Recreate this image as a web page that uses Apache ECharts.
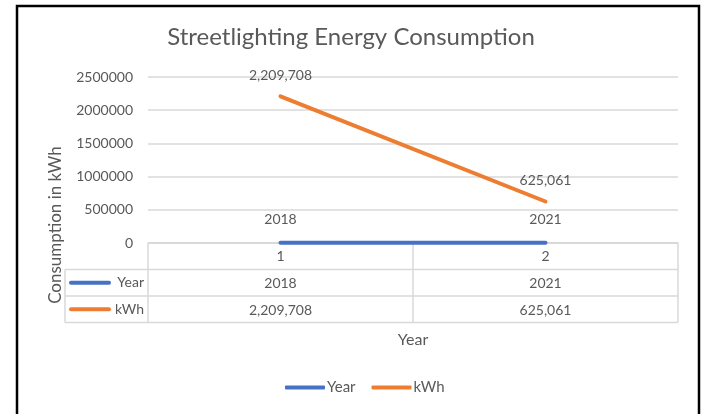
<!DOCTYPE html>
<html>
<head>
<meta charset="utf-8">
<script src="https://cdn.jsdelivr.net/npm/echarts@6/dist/echarts.min.js"></script>
<style>
  html, body { margin: 0; padding: 0; background: #fff; }
  #chart { width: 702px; height: 414px; }
</style>
</head>
<body>
<div id="chart"></div>
<script>
// data
const categories = ['1', '2']
const yearValues = [2018, 2021]
const kwhValues = [2209708, 625061]
const seriesNames = ['Year', 'kWh']
const yTicks = { min: 0, max: 2500000, interval: 500000 }

const FONT = 'Lato'
const TXT = '#595959'
const GRID_LINE = '#D9D9D9'
const BLUE = '#4472C4'
const ORANGE = '#ED7D31'

// layout (px)
const gridLeft = 148
const gridRight = 678
const gridTop = 77
const axisY = 243
const rowH = 26.5
const tableLeft = 65

const fmt = v => v.toLocaleString('en-US')

const chart = echarts.init(document.getElementById('chart'))

const tableRows = [
  { name: seriesNames[0], color: BLUE, y: axisY + rowH * 1.5 },
  { name: seriesNames[1], color: ORANGE, y: axisY + rowH * 2.5 }
]

const graphics = [
  // chart frame
  { type: 'rect', shape: { x: 17, y: 6, width: 682, height: 420 }, style: { fill: 'none', stroke: '#000', lineWidth: 2.5 }, silent: true },
  // y axis title
  {
    type: 'text', x: 56, y: 225, rotation: Math.PI / 2,
    style: { text: 'Consumption in kWh', font: '17px ' + FONT, fill: TXT, align: 'center', verticalAlign: 'middle' }
  }
]

// data table borders
const tableBottom = axisY + rowH * 3
const hLines = [
  [gridLeft, axisY, gridRight, axisY],
  [tableLeft, axisY + rowH, gridRight, axisY + rowH],
  [tableLeft, axisY + rowH * 2, gridRight, axisY + rowH * 2],
  [tableLeft, tableBottom, gridRight, tableBottom],
  [tableLeft, axisY + rowH, tableLeft, tableBottom],
  [gridLeft, axisY, gridLeft, tableBottom],
  [(gridLeft + gridRight) / 2, axisY, (gridLeft + gridRight) / 2, tableBottom],
  [gridRight, axisY, gridRight, tableBottom]
]
hLines.forEach(l => {
  graphics.push({
    type: 'line', silent: true, z: 1,
    shape: { x1: l[0], y1: l[1], x2: l[2], y2: l[3] },
    style: { stroke: GRID_LINE, lineWidth: 1.5 }
  })
})
tableRows.forEach(r => {
  graphics.push({
    type: 'line', silent: true,
    shape: { x1: 71, y1: r.y, x2: 109, y2: r.y },
    style: { stroke: r.color, lineWidth: 4, lineCap: 'round' }
  })
  graphics.push({
    type: 'text', x: 144, y: r.y,
    style: { text: r.name, font: '14px ' + FONT, fill: TXT, align: 'right', verticalAlign: 'middle' }
  })
})

const tableAxis = (data, offset, extra) => Object.assign({
  type: 'category',
  data: data,
  position: 'bottom',
  offset: offset,
  axisLine: { show: false },
  axisTick: { show: false },
  axisLabel: { color: TXT, fontFamily: FONT, fontSize: 14, margin: 7 },
  splitLine: { show: false }
}, extra || {})

const option = {
  animation: false,
  backgroundColor: '#fff',
  textStyle: { fontFamily: FONT },
  title: {
    text: 'Streetlighting Energy Consumption',
    left: 'center',
    top: 20,
    textStyle: { color: TXT, fontFamily: FONT, fontSize: 24, fontWeight: 'normal' }
  },
  legend: {
    data: seriesNames,
    bottom: 14,
    left: 280,
    icon: 'roundRect',
    itemWidth: 40,
    itemHeight: 4,
    itemGap: 16,
    textStyle: { color: TXT, fontFamily: FONT, fontSize: 15, padding: [0, 0, 0, -3] }
  },
  grid: {
    left: gridLeft,
    right: 702 - gridRight,
    top: gridTop,
    bottom: 414 - axisY,
    containLabel: false
  },
  xAxis: [
    tableAxis(categories, 0, {
      axisLine: { show: true, lineStyle: { color: GRID_LINE, width: 1.5 } },
      axisLabel: { color: TXT, fontFamily: FONT, fontSize: 14, margin: 6 }
    }),
    tableAxis(yearValues.map(String), rowH),
    tableAxis(kwhValues.map(fmt), rowH * 2, {
      name: 'Year',
      nameLocation: 'middle',
      nameGap: 36,
      nameTextStyle: { color: TXT, fontFamily: FONT, fontSize: 16 }
    })
  ],
  yAxis: {
    type: 'value',
    min: yTicks.min,
    max: yTicks.max,
    interval: yTicks.interval,
    axisLine: { show: false },
    axisTick: { show: false },
    axisLabel: { color: TXT, fontFamily: FONT, fontSize: 14, margin: 15, formatter: v => String(v) },
    splitLine: { lineStyle: { color: GRID_LINE, width: 1.5 } }
  },
  series: [
    {
      name: seriesNames[0],
      type: 'line',
      data: yearValues,
      symbol: 'circle',
      symbolSize: 0,
      lineStyle: { color: BLUE, width: 4, cap: 'round' },
      itemStyle: { color: BLUE },
      label: { show: true, position: 'top', distance: 16, color: TXT, fontFamily: FONT, fontSize: 14, formatter: p => String(p.value) },
      z: 3
    },
    {
      name: seriesNames[1],
      type: 'line',
      data: kwhValues,
      symbol: 'circle',
      symbolSize: 0,
      lineStyle: { color: ORANGE, width: 4, cap: 'round' },
      itemStyle: { color: ORANGE },
      label: { show: true, position: 'top', distance: 14, color: TXT, fontFamily: FONT, fontSize: 14, formatter: p => fmt(p.value) },
      z: 3
    }
  ],
  graphic: graphics
}

chart.setOption(option)
</script>
</body>
</html>
